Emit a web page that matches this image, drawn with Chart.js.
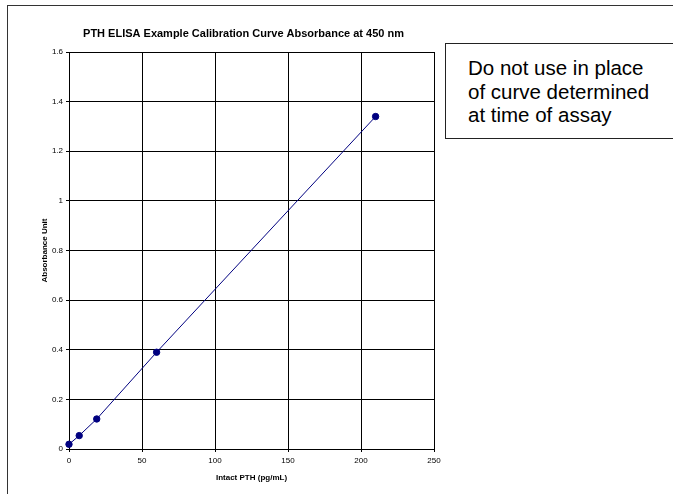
<!DOCTYPE html>
<html>
<head>
<meta charset="utf-8">
<script src="https://cdn.jsdelivr.net/npm/chart.js@4"></script>
<style>
  body { margin: 0; background: #fff; }
  #wrap { position: relative; width: 673px; height: 494px; overflow: hidden; background: #fff; }
  #frame { position: absolute; left: 7px; top: 5px; width: 720px; height: 560px; border: 1.5px solid #333; box-sizing: border-box; }
  #chart { position: absolute; left: 0; top: 0; }
  #note {
    position: absolute; left: 445px; top: 43px; width: 260px; height: 96px;
    border: 1.5px solid #222; box-sizing: border-box; background: #fff;
    font-family: "Liberation Sans", Arial, sans-serif; font-size: 20.5px; line-height: 23.5px;
    color: #000; padding: 12px 0 0 22px;
  }
</style>
</head>
<body>
<div id="wrap">
  <div id="frame"></div>
  <canvas id="chart" width="673" height="494"></canvas>
  <div id="note">Do not use in place<br>of curve determined<br>at time of assay</div>
</div>
<script>
  // standards
  const concentrations = [0, 7, 19, 60, 210];
  const absorbance = [0.019, 0.054, 0.121, 0.39, 1.34];

  const chartTitle = 'PTH ELISA Example Calibration Curve Absorbance at 450 nm';
  const xTitle = 'Intact PTH (pg/mL)';
  const yTitle = 'Absorbance Unit';

  const FONT = '"Liberation Sans", Arial, sans-serif';

  const points = concentrations.map((c, i) => ({ x: c, y: absorbance[i] }));

  const titlePlugin = {
    id: 'fixedTitle',
    afterDraw(chart) {
      const ctx = chart.ctx;
      ctx.save();
      ctx.font = 'bold 11px ' + FONT;
      ctx.fillStyle = '#000';
      ctx.textAlign = 'center';
      ctx.textBaseline = 'middle';
      ctx.fillText(chartTitle, 243.5, 34);
      ctx.restore();
    }
  };

  new Chart(document.getElementById('chart').getContext('2d'), {
    type: 'scatter',
    data: {
      datasets: [{
        data: points,
        showLine: true,
        borderColor: '#000080',
        backgroundColor: '#000080',
        borderWidth: 1,
        pointRadius: 3.2,
        pointBorderWidth: 1,
        pointBorderColor: '#000080',
        pointBackgroundColor: '#000080',
        tension: 0,
        clip: false
      }]
    },
    options: {
      responsive: false,
      animation: false,
      layout: { padding: { top: 52, left: 0, right: 239, bottom: 0 } },
      plugins: {
        legend: { display: false },
        tooltip: { enabled: false },
        title: { display: false }
      },
      scales: {
        x: {
          type: 'linear',
          min: 0,
          max: 250,
          afterFit: (scale) => { scale.height = 45; },
          ticks: { stepSize: 50, color: '#000', padding: 4, font: { family: FONT, size: 8 } },
          grid: { color: '#000', lineWidth: 1, tickLength: 3 },
          border: { color: '#000', width: 1 },
          title: { display: true, text: xTitle, color: '#000', padding: { top: 0, bottom: 11.5 }, font: { family: FONT, size: 8, weight: 'bold' } }
        },
        y: {
          type: 'linear',
          min: 0,
          max: 1.6,
          afterFit: (scale) => { scale.width = 69; },
          ticks: {
            stepSize: 0.2, color: '#000', padding: 3, font: { family: FONT, size: 8 },
            callback: (v) => String(Number(v.toFixed(1)))
          },
          grid: { color: '#000', lineWidth: 1, tickLength: 3 },
          border: { color: '#000', width: 1 },
          title: { display: true, text: yTitle, color: '#000', padding: { top: 39.5, bottom: 0 }, font: { family: FONT, size: 8, weight: 'bold' } }
        }
      }
    },
    plugins: [titlePlugin]
  });
</script>
</body>
</html>
